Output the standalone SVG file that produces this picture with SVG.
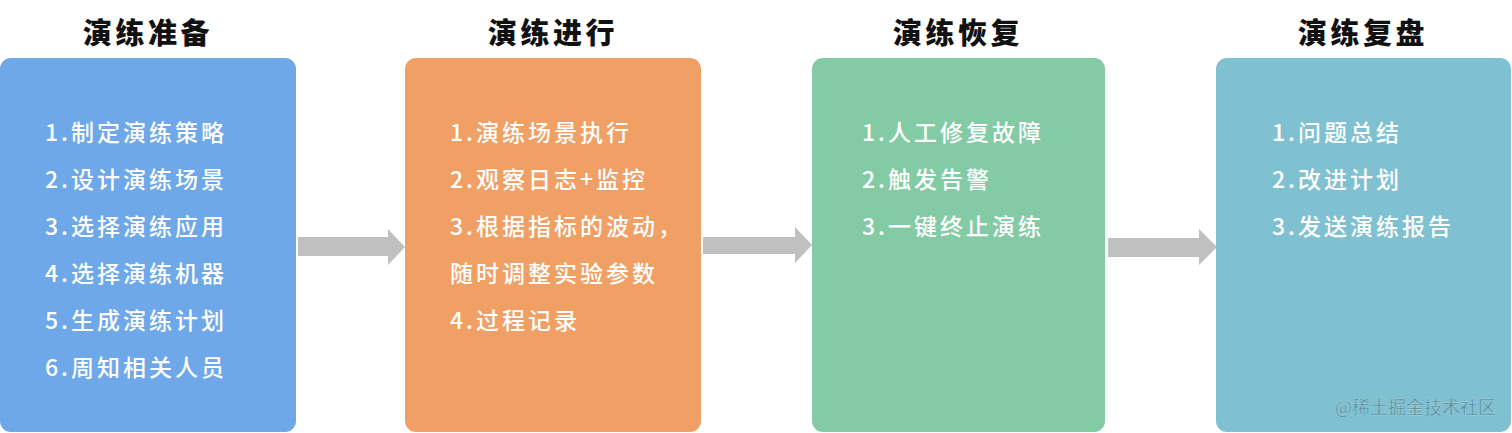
<svg xmlns="http://www.w3.org/2000/svg" width="1512" height="433" viewBox="0 0 1512 433">
<style>
.title{font-family:"Noto Sans CJK SC","Noto Sans",sans-serif;font-weight:900;font-size:29px;letter-spacing:3.5px;fill:#111;text-anchor:middle}
.item{font-family:"Noto Sans CJK SC","Noto Sans",sans-serif;font-weight:500;font-size:23px;letter-spacing:3px;fill:#ffffff}
.arrow{fill:#c0c0c0}
.wm{font-family:"Noto Sans CJK SC",sans-serif;font-size:18px;fill:#4f8795;stroke:#b5dde6;stroke-width:0.3}
</style>
<rect width="1512" height="433" fill="#ffffff"/>
<g id="connectors">
<polygon class="arrow" points="298,237 388,237 388,229 405,247 388,265 388,256 298,256"/>
<polygon class="arrow" points="703,237 795,237 795,227 812,245 795,263 795,254 703,254"/>
<polygon class="arrow" points="1108,238 1199,238 1199,229 1217,247 1199,265 1199,257 1108,257"/>
</g>
<g id="prep">
<text class="title" x="148" y="44">演练准备</text>
<rect x="0" y="58" width="296" height="374" rx="11" fill="#6ea8e8"/>
<text class="item" x="45" y="141">1.制定演练策略</text>
<text class="item" x="45" y="188">2.设计演练场景</text>
<text class="item" x="45" y="235">3.选择演练应用</text>
<text class="item" x="45" y="282">4.选择演练机器</text>
<text class="item" x="45" y="329">5.生成演练计划</text>
<text class="item" x="45" y="376">6.周知相关人员</text>
</g>
<g id="run">
<text class="title" x="553" y="44">演练进行</text>
<rect x="405" y="58" width="296" height="374" rx="11" fill="#f0a064"/>
<text class="item" x="450" y="141">1.演练场景执行</text>
<text class="item" x="450" y="188">2.观察日志+监控</text>
<text class="item" x="450" y="235">3.根据指标的波动，</text>
<text class="item" x="450" y="282">随时调整实验参数</text>
<text class="item" x="450" y="329">4.过程记录</text>
</g>
<g id="recover">
<text class="title" x="958" y="44">演练恢复</text>
<rect x="812" y="58" width="293" height="374" rx="11" fill="#83cba5"/>
<text class="item" x="862" y="141">1.人工修复故障</text>
<text class="item" x="862" y="188">2.触发告警</text>
<text class="item" x="862" y="235">3.一键终止演练</text>
</g>
<g id="review">
<text class="title" x="1363" y="44">演练复盘</text>
<rect x="1216" y="58" width="295" height="374" rx="11" fill="#7fc1d1"/>
<text class="item" x="1272" y="141">1.问题总结</text>
<text class="item" x="1272" y="188">2.改进计划</text>
<text class="item" x="1272" y="235">3.发送演练报告</text>
<text class="wm" x="1335" y="414">@稀土掘金技术社区</text>
</g>
</svg>
